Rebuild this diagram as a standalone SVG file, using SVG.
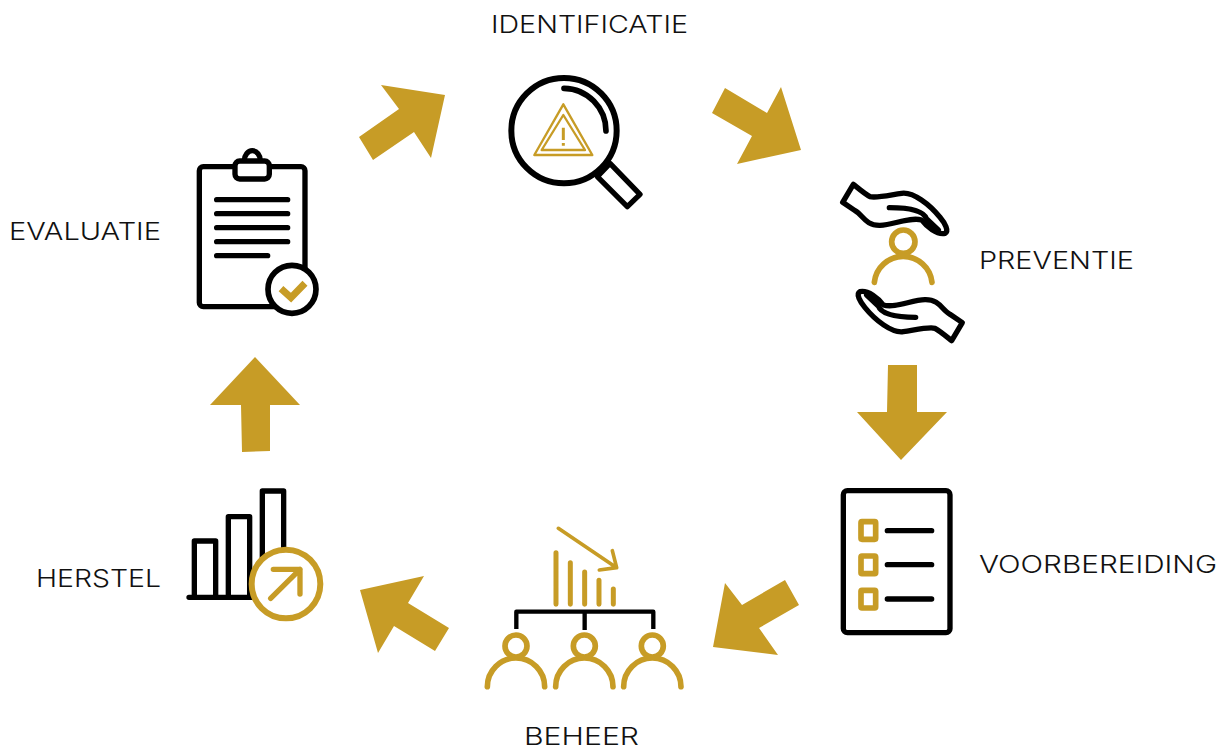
<svg xmlns="http://www.w3.org/2000/svg" width="1225" height="749" viewBox="0 0 1225 749">
<style>
.lbl{font-family:"Inter","Noto Sans","Liberation Sans",sans-serif;font-size:24.5px;font-weight:300;fill:#111}
.arrow{fill:#C79C26}
.k{fill:none;stroke:#000;stroke-width:16;stroke-linecap:round;stroke-linejoin:round}
.g{fill:none;stroke:#C79C26;stroke-width:17;stroke-linecap:round;stroke-linejoin:round}
.w{fill:#fff}
</style>
<defs>
<g id="handShape">
<path class="k" d="M70,43 L38,97 L75,122 C100,135 105,167 150,166 C190,165 240,140 275,150 C290,170 320,195 345,190 C358,183 345,160 330,142 C300,105 250,65 215,70 C180,75 140,85 120,80 C105,72 85,55 70,43 Z"/>
<path class="k" d="M178,113 C220,113 280,118 290,147 L325,180"/>
</g>
</defs>
<rect width="1225" height="749" fill="#fff"/>
<g id="connectors">
<polygon class="arrow" points="359,137 399,109 381,85 445,95 431,158 414,132 373,160"/>
<polygon class="arrow" points="725,88 767,113 781,87 801,150 737,164 752,136 712,113"/>
<polygon class="arrow" points="888,365 917,365 917,412 947,412 901,460 857,412 887,412"/>
<polygon class="arrow" points="785,580 742,605 725,583 713,647 778,655 759,628 799,605"/>
<polygon class="arrow" points="449,628 408,603 424,576 360,590 378,653 394,626 435,651"/>
<polygon class="arrow" points="270,451 242,452 241,405 210,405 255,357 300,405 270,405"/>
</g>
<g id="identificatie">
<g transform="translate(490,60) scale(.3333)">
<polygon class="k" points="360,310 450,403 412,440 322,350"/>
<circle class="w" cx="222" cy="212" r="158"/>
<circle class="k" cx="222" cy="212" r="158" style="stroke-width:18"/>
<path class="k" d="M222,85 A128,128 0 0 1 348,213" style="stroke-width:17"/>
<polygon class="g" points="220,133 133,285 307,285" style="stroke-width:7"/>
<polygon class="g" points="220,165 155,270 285,270" style="stroke-width:7"/>
<path class="g" d="M220,203V240M220,249V257" style="stroke-width:9;stroke-linecap:butt"/>
</g>
<text class="lbl" x="491" y="33" textLength="197" lengthAdjust="spacingAndGlyphs">IDENTIFICATIE</text>
</g>
<g id="preventie">
<g transform="translate(830,170) scale(.3333)">
<use href="#handShape"/>
<use href="#handShape" transform="rotate(180 217.5 277.5)"/>
<circle class="g" cx="220" cy="215" r="35"/>
<path class="g" d="M133,337 A87,87 0 0 1 306,337"/>
</g>
<text class="lbl" x="979" y="269" textLength="155" lengthAdjust="spacingAndGlyphs">PREVENTIE</text>
</g>
<g id="voorbereiding">
<g transform="translate(830,480) scale(.3333)">
<rect class="k" x="40" y="32" width="320" height="426" rx="12"/>
<rect class="g" x="93" y="125" width="44" height="53" rx="3" style="stroke-linejoin:miter"/>
<rect class="g" x="93" y="228" width="44" height="53" rx="3" style="stroke-linejoin:miter"/>
<rect class="g" x="93" y="331" width="44" height="53" rx="3" style="stroke-linejoin:miter"/>
<path class="k" d="M172,152H305M172,254H305M172,357H305"/>
</g>
<text class="lbl" x="979" y="573" textLength="238" lengthAdjust="spacingAndGlyphs">VOORBEREIDING</text>
</g>
<g id="beheer">
<g transform="translate(475,515) scale(.3333)">
<path class="g" d="M243,113V268M286,143V268M329,171V268M372,196V268M415,222V268" style="stroke-width:15"/>
<path class="g" d="M250,40L425,158M373,165L425,158L412,107" style="stroke-width:11"/>
<path class="k" d="M124,342V290H535V342M329,290V345" style="stroke-width:13;stroke-linecap:butt"/>
<circle class="g" cx="123" cy="393" r="33"/>
<path class="g" d="M37,515A86,86 0 0 1 209,515"/>
<circle class="g" cx="328" cy="393" r="33"/>
<path class="g" d="M242,515A86,86 0 0 1 414,515"/>
<circle class="g" cx="532" cy="393" r="33"/>
<path class="g" d="M446,515A86,86 0 0 1 618,515"/>
</g>
<text class="lbl" x="524" y="745" textLength="115" lengthAdjust="spacingAndGlyphs">BEHEER</text>
</g>
<g id="herstel">
<g transform="translate(175,480) scale(.3333)">
<path class="k" d="M58,350V183H122V350M160,350V110H224V350M262,250V33H326V250M42,352H240"/>
<circle class="g" cx="333" cy="312" r="103" style="fill:#fff;stroke-width:18"/>
<path class="g" d="M287,355L375,268M295,268H375V342" style="stroke-width:16"/>
</g>
<text class="lbl" x="36" y="587" textLength="125" lengthAdjust="spacingAndGlyphs">HERSTEL</text>
</g>
<g id="evaluatie">
<g transform="translate(180,140) scale(.3333)">
<rect class="k" x="58" y="80" width="317" height="420" rx="12"/>
<path class="k" d="M193,62 A24,30 0 0 1 241,62"/>
<rect class="k" x="165" y="63" width="103" height="54" rx="14" style="fill:#fff"/>
<path class="k" d="M110,179H323M110,221H323M110,263H323M110,305H323M110,347H263"/>
<circle class="k" cx="336" cy="448" r="72" style="fill:#fff;stroke-width:17"/>
<path class="g" d="M303,446L333,473L375,430" style="stroke-width:21;stroke-linecap:butt;stroke-linejoin:miter"/>
</g>
<text class="lbl" x="9" y="240" textLength="152" lengthAdjust="spacingAndGlyphs">EVALUATIE</text>
</g>
</svg>
